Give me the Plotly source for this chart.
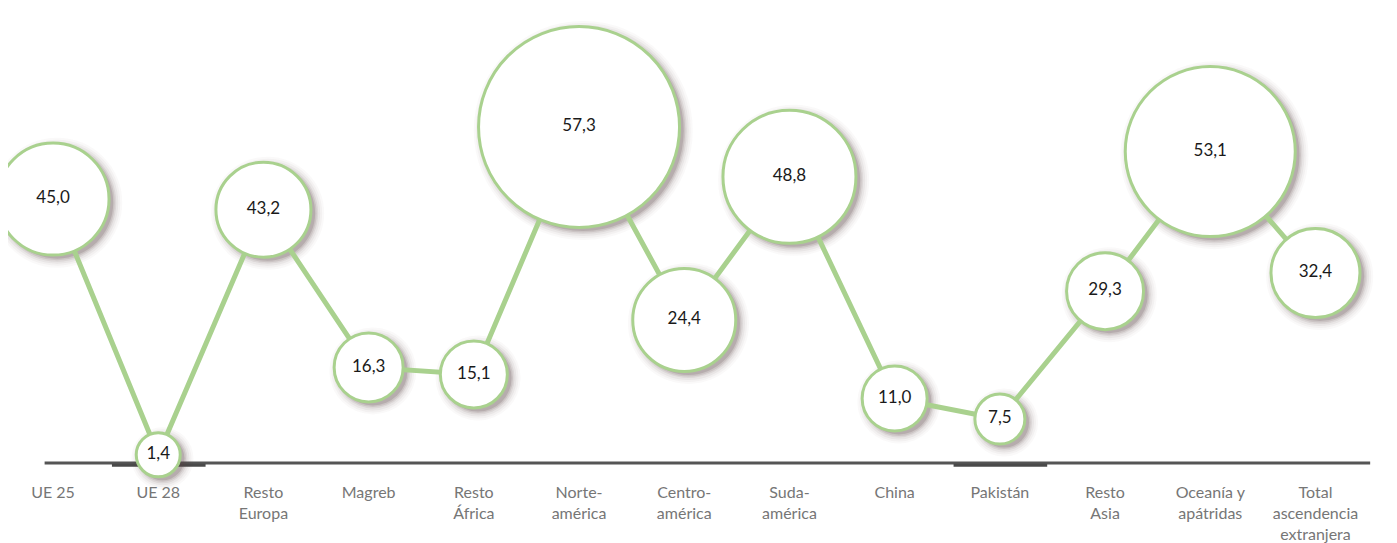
import plotly.graph_objects as go

categories = ["UE 25", "UE 28", "Resto<br>Europa", "Magreb", "Resto<br>África",
              "Norte-<br>américa", "Centro-<br>américa", "Suda-<br>américa", "China",
              "Pakistán", "Resto<br>Asia", "Oceanía y<br>apátridas",
              "Total<br>ascendencia<br>extranjera"]
values = [45.0, 1.4, 43.2, 16.3, 15.1, 57.3, 24.4, 48.8, 11.0, 7.5, 29.3, 53.1, 32.4]
bubble_size = [112, 44, 95, 69, 67, 201, 103, 133, 65, 50, 77, 170, 89]
highlighted = ["UE 28", "Pakistán"]

idx = list(range(len(categories)))
GREEN = "#a9d18e"

fig = go.Figure()

# soft shadows
for grow, op in [(18, 0.03), (14, 0.045), (10, 0.06), (6, 0.09), (3, 0.13), (0, 0.18)]:
    fig.add_trace(go.Scatter(
        x=[i + 0.04 for i in idx], y=[v - 0.6 for v in values],
        mode="markers", hoverinfo="skip", cliponaxis=False,
        marker=dict(size=[s + grow for s in bubble_size], color="#5a4446",
                    opacity=op, line=dict(width=0)),
    ))

# connecting line
fig.add_trace(go.Scatter(x=idx, y=values, mode="lines", cliponaxis=False,
                         line=dict(color=GREEN, width=5), hoverinfo="skip"))

# bubbles
fig.add_trace(go.Scatter(
    x=idx, y=values, mode="markers+text", cliponaxis=False,
    marker=dict(size=bubble_size, color="white", opacity=1,
                line=dict(color=GREEN, width=3)),
    text=[f"{v:.1f}".replace(".", ",") for v in values],
    textposition="middle center",
    textfont=dict(family="Lato", size=17, color="#1a1a1a"),
))

shapes = [dict(type="line", xref="x", yref="paper", x0=-0.08, x1=12.52, y0=0, y1=0,
               line=dict(color="#555555", width=3), layer="below")]
for c in highlighted:
    i = categories.index(c)
    shapes.append(dict(type="line", xref="x", yref="paper", x0=i - 0.44, x1=i + 0.45,
                       y0=-0.005, y1=-0.005, line=dict(color="#4a4a4a", width=3),
                       layer="below"))

fig.update_layout(
    width=1389, height=538,
    margin=dict(l=0, r=0, t=0, b=83),
    paper_bgcolor="white", plot_bgcolor="white",
    showlegend=False,
    shapes=shapes,
    xaxis=dict(range=[-0.428, 12.775], tickmode="array", tickvals=idx, ticktext=categories,
               showgrid=False, zeroline=False, showline=False,
               ticks="outside", ticklen=15, tickcolor="rgba(0,0,0,0)",
               tickfont=dict(family="Lato", size=16, color="#767676")),
    yaxis=dict(range=[0, 77.59], visible=False),
)

fig.write_html("out.html")
